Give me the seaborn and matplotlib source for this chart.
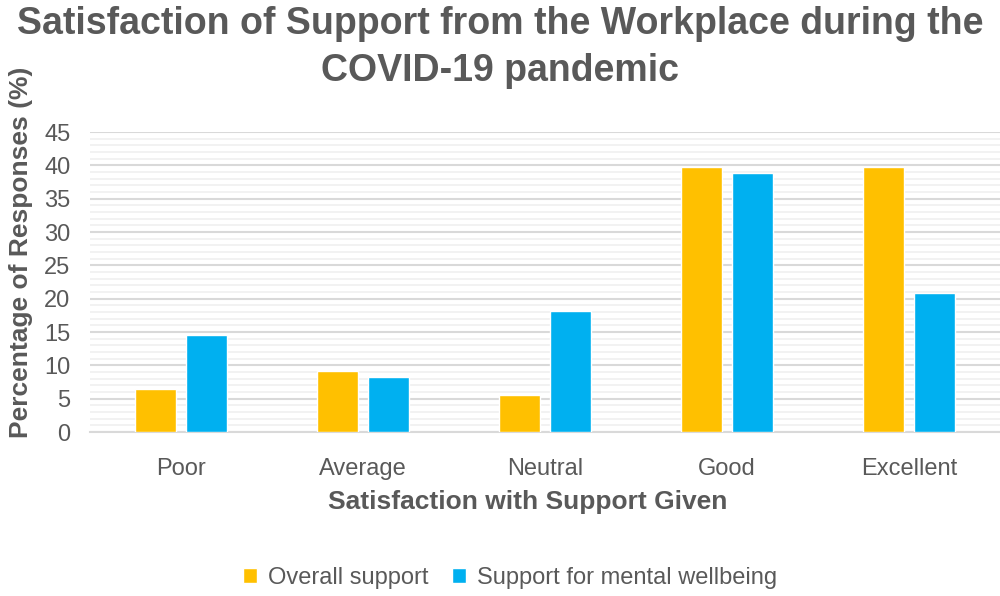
import matplotlib
matplotlib.use('Agg')
import matplotlib.pyplot as plt
from matplotlib.ticker import MultipleLocator
import seaborn as sns
import pandas as pd

categories = ['Poor', 'Average', 'Neutral', 'Good', 'Excellent']
overall = [6.4, 9.1, 5.5, 39.7, 39.7]
mental = [14.5, 8.2, 18.1, 38.8, 20.8]
series_names = ['Overall support', 'Support for mental wellbeing']

df = pd.DataFrame({
    'cat': categories * 2,
    'val': overall + mental,
    'series': [series_names[0]] * 5 + [series_names[1]] * 5,
})

sns.set_style('white')
plt.rcParams['font.family'] = ['Liberation Sans', 'DejaVu Sans']
grey = '#595959'

fig = plt.figure(figsize=(10, 5.96), dpi=100)
ax = fig.add_axes([0.09, 0.275, 0.91, 0.5035])

sns.barplot(data=df, x='cat', y='val', hue='series', order=categories,
            palette=['#FFC000', '#00B0F0'], width=0.56, gap=0.2,
            saturation=1, ax=ax, zorder=3)

ax.set_ylim(0, 45)
ax.set_xlim(-0.5, 4.5)
ax.yaxis.set_major_locator(MultipleLocator(5))
ax.yaxis.set_minor_locator(MultipleLocator(1))
ax.grid(axis='y', which='major', color='#d9d9d9', linewidth=1.5, zorder=0)
ax.grid(axis='y', which='minor', color='#f0f0f0', linewidth=1.2, zorder=0)
ax.set_axisbelow(True)
for s in ['top', 'right', 'left']:
    ax.spines[s].set_visible(False)
ax.spines['bottom'].set_color('#d9d9d9')
ax.spines['bottom'].set_linewidth(1.5)

ax.tick_params(axis='both', length=0, labelsize=17, labelcolor=grey)
ax.tick_params(axis='x', pad=19)
ax.tick_params(axis='y', pad=14)

ax.set_xlabel('Satisfaction with Support Given', fontsize=19, fontweight='bold',
              color=grey)
ax.xaxis.label.set_va('center')
ax.xaxis.set_label_coords((528 - 90) / 910, -0.233)
ax.set_ylabel('')
fig.text(0.021, 0.577, 'Percentage of Responses (%)', rotation=90, fontsize=19,
         fontweight='bold', color=grey, ha='center', va='center')

fig.suptitle('Satisfaction of Support from the Workplace during the\nCOVID-19 pandemic',
             fontsize=27, fontweight='bold', color=grey, y=0.99, linespacing=1.4)

ax.legend(loc='center', bbox_to_anchor=(0.4615, -0.485),
          ncol=2, frameon=False, fontsize=17, labelcolor=grey,
          handlelength=0.6, handleheight=0.6, handletextpad=0.45, columnspacing=1.0)

fig.savefig('out.png', dpi=100, facecolor='white')
